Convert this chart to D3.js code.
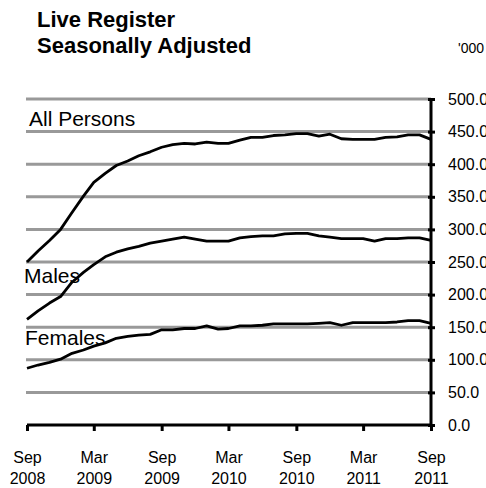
<!DOCTYPE html>
<html>
<head>
<meta charset="utf-8">
<script src="https://cdn.jsdelivr.net/npm/d3@7"></script>
<style>
  html, body { margin: 0; padding: 0; background: #fff; }
  svg { display: block; font-family: "Liberation Sans", Arial, Helvetica, sans-serif; }
</style>
</head>
<body>
<svg id="chart" width="486" height="488"></svg>
<script>
// ---- Data (thousands) ----
const months = d3.timeMonths(new Date(2008, 8, 1), new Date(2011, 9, 1)); // Sep 2008 .. Sep 2011
const allPersons = [250,267,283,300,326,351,372,386,398,405,413,419,426,430,432,431,434,432,432,437,441,441,444,445,447,447,443,446,439,438,438,438,441,442,445,445,438];
const males      = [162,175,187,197,219,234,246,258,265,270,274,279,282,285,288,285,282,282,282,287,289,290,290,293,294,294,290,288,286,286,286,282,286,286,287,287,283];
const females    = [87,92,96,101,110,115,121,126,133,136,138,139,146,146,148,148,152,147,148,152,152,153,155,155,155,155,156,157,153,157,157,157,157,158,160,160,156];
const seriesNames = ["All Persons", "Males", "Females"];
const yTicks = [0,50,100,150,200,250,300,350,400,450,500];
const xTickDates = [new Date(2008,8,1), new Date(2009,2,1), new Date(2009,8,1), new Date(2010,2,1), new Date(2010,8,1), new Date(2011,2,1), new Date(2011,8,1)];
const xTickLabels = [["Sep","2008"],["Mar","2009"],["Sep","2009"],["Mar","2010"],["Sep","2010"],["Mar","2011"],["Sep","2011"]];
const titleLines = ["Live Register", "Seasonally Adjusted"];
const unitLabel = "'000";

// ---- Layout ----
const svg = d3.select("#chart");
const x = d3.scaleTime().domain([months[0], months[months.length-1]]).range([27, 431]);
const y = d3.scaleLinear().domain([0, 500]).range([425, 99]);

// Title
svg.append("g").selectAll("text").data(titleLines).join("text")
  .attr("x", 37).attr("y", (d,i) => 27 + i*26)
  .attr("font-size", 22).attr("font-weight", "bold").attr("fill", "#000")
  .text(d => d);
svg.append("text").attr("x", 458).attr("y", 53).attr("font-size", 14).attr("fill", "#000").text(unitLabel);

// Gridlines
svg.append("g").selectAll("line").data(yTicks.filter(v => v > 0)).join("line")
  .attr("x1", 26).attr("x2", 431)
  .attr("y1", d => y(d)).attr("y2", d => y(d))
  .attr("stroke", "#999").attr("stroke-width", 3);

// Series lines
const line = d3.line().x((d,i) => x(months[i])).y(d => y(d));
[allPersons, males, females].forEach(s => {
  svg.append("path").datum(s).attr("d", line)
    .attr("fill", "none").attr("stroke", "#000").attr("stroke-width", 2.8)
    .attr("stroke-linejoin", "round");
});

// Series labels
const labelPos = [[29, 126], [24, 283], [25, 345]];
svg.append("g").selectAll("text").data(seriesNames).join("text")
  .attr("x", (d,i) => labelPos[i][0]).attr("y", (d,i) => labelPos[i][1])
  .attr("font-size", 21).attr("fill", "#000").text(d => d);

// X axis (bottom)
const xAxis = d3.axisBottom(x).tickValues(xTickDates).tickSize(6).tickFormat(() => "");
const gx = svg.append("g").attr("transform", `translate(0,${y(0)})`).call(xAxis);
gx.select(".domain").attr("stroke", "#000").attr("stroke-width", 3).attr("d", `M${x.range()[0]},0H${x.range()[1]}`);
gx.selectAll(".tick line").attr("stroke", "#000").attr("stroke-width", 3);
gx.selectAll(".tick").each(function(d, i) {
  const t = d3.select(this).append("text").attr("fill", "#000").attr("font-size", 16)
    .attr("text-anchor", "middle").style("font-family", "'Liberation Sans', Arial, sans-serif");
  t.append("tspan").attr("x", 0).attr("y", 38).text(xTickLabels[i][0]);
  t.append("tspan").attr("x", 0).attr("y", 59).text(xTickLabels[i][1]);
});

// Y axis (right)
const yAxis = d3.axisRight(y).tickValues(yTicks).tickSize(4).tickFormat(d3.format(".1f"));
const gy = svg.append("g").attr("transform", `translate(${x.range()[1]},0)`).call(yAxis);
gy.select(".domain").attr("stroke", "#000").attr("stroke-width", 3).attr("d", `M0,${y(0)+1.5}V${y(500)}`);
gy.selectAll(".tick line").attr("stroke", "#000").attr("stroke-width", 3).attr("x1", -3);
gy.selectAll(".tick text").attr("x", 17).attr("font-size", 16).attr("fill", "#000")
  .style("font-family", "'Liberation Sans', Arial, sans-serif");
</script>
</body>
</html>
